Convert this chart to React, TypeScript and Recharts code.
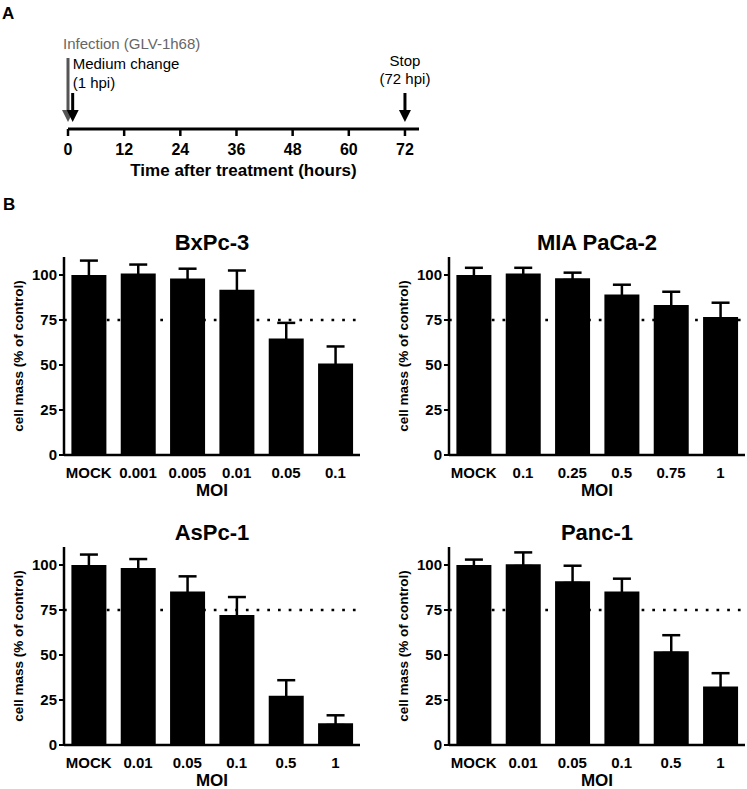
import React from 'react';
import { BarChart, Bar, XAxis, YAxis, ErrorBar, ReferenceLine, ComposedChart, Scatter } from 'recharts';

const FONT = '"Liberation Sans", Arial, Helvetica, sans-serif';

// Panel A: timeline
const timeTicks = [0, 12, 24, 36, 48, 60, 72];
const arrowTimes = [0, 1, 72];
const arrowTops = [71, 36, 36];
const arrowColors = ['#555', '#000', '#000'];
const timeNotes = [
  { t: 0, v: 80, text: 'Infection (GLV-1h68)', fill: '#666', anchor: 'start' },
  { t: 1, v: 60, text: 'Medium change', fill: '#000', anchor: 'start' },
  { t: 1, v: 41, text: '(1 hpi)', fill: '#000', anchor: 'start' },
  { t: 72, v: 63, text: 'Stop', fill: '#000', anchor: 'middle' },
  { t: 72, v: 45, text: '(72 hpi)', fill: '#000', anchor: 'middle' },
];

// Panel B: cell mass (% of control), mean and upper error
const bxpcDoses = ['MOCK', '0.001', '0.005', '0.01', '0.05', '0.1'];
const bxpcMean = [100, 100.8, 98, 91.8, 64.7, 50.8];
const bxpcErr = [8, 5, 5.5, 10.7, 8.7, 9.5];

const miaDoses = ['MOCK', '0.1', '0.25', '0.5', '0.75', '1'];
const miaMean = [100, 100.8, 98.2, 89.1, 83.3, 76.6];
const miaErr = [4, 3.2, 3.1, 5.5, 7.4, 8];

const aspcDoses = ['MOCK', '0.01', '0.05', '0.1', '0.5', '1'];
const aspcMean = [100, 98.3, 85.3, 72.2, 27.3, 12.1];
const aspcErr = [5.8, 5, 8.4, 10, 8.7, 4.4];

const pancDoses = ['MOCK', '0.01', '0.05', '0.1', '0.5', '1'];
const pancMean = [100, 100.4, 91, 85.3, 52.1, 32.5];
const pancErr = [3, 6.6, 8.6, 7.1, 8.9, 7.4];

const yTicks = [0, 25, 50, 75, 100];
const threshold = 75;

const ArrowHead = (props: any) => {
  const { cx, cy, payload } = props;
  return <polygon points={`${cx - 6},${cy - 12} ${cx + 6},${cy - 12} ${cx},${cy}`} fill={payload.color} />;
};

const Note = (props: any) => {
  const { cx, cy, payload } = props;
  const dx = payload.t === 0 ? -5 : 0;
  return (
    <text x={cx + dx} y={cy} textAnchor={payload.anchor} fill={payload.fill} fontSize={15}>
      {payload.text}
    </text>
  );
};

const renderYLabel = (props: any) => {
  const vb = props.viewBox;
  const cx = vb.x + 18;
  const cy = vb.y + vb.height / 2;
  return (
    <text x={cx} y={cy} transform={`rotate(-90 ${cx} ${cy})`} textAnchor="middle"
      dominantBaseline="central" fontSize={13.5} fontWeight="bold" fill="#000">
      cell mass (% of control)
    </text>
  );
};

const Timeline = () => {
  const heads = arrowTimes.map((t, i) => ({ t, v: 7, color: arrowColors[i] }));
  return (
    <ComposedChart width={440} height={180} margin={{ top: 29, right: 21, bottom: 2, left: 68 }}>
      <XAxis type="number" dataKey="t" domain={[0, 75]} ticks={timeTicks} tickSize={7} tickMargin={8}
        axisLine={{ stroke: '#000', strokeWidth: 3 }} tickLine={{ stroke: '#000', strokeWidth: 2.5 }}
        tick={{ fontSize: 16, fontWeight: 'bold', fill: '#000' }} height={49}
        label={{ value: 'Time after treatment (hours)', position: 'insideBottom', offset: 2,
          style: { fontSize: 17, fontWeight: 'bold', fill: '#000' } }} />
      <YAxis type="number" dataKey="v" hide domain={[0, 100]} />
      {arrowTimes.map((t, i) => (
        <ReferenceLine key={i} segment={[{ x: t, y: arrowTops[i] }, { x: t, y: 17 }]}
          stroke={arrowColors[i]} strokeWidth={3} />
      ))}
      <Scatter data={heads} dataKey="v" shape={ArrowHead} isAnimationActive={false} />
      <Scatter data={timeNotes} dataKey="v" shape={Note} isAnimationActive={false} />
    </ComposedChart>
  );
};

const Panel = ({ title, doses, mean, err, left, top }: any) => {
  // lower whisker kept tiny so it stays hidden inside the black bar
  const data = doses.map((d: string, i: number) => ({ dose: d, value: mean[i], err: [1, err[i]] }));
  return (
    <>
      <div style={{ position: 'absolute', left: left + 64, top: top - 18, width: 296, textAlign: 'center',
        fontSize: 22, fontWeight: 'bold', lineHeight: 1 }}>{title}</div>
      <div style={{ position: 'absolute', left, top }}>
        <BarChart width={362} height={250} data={data} barCategoryGap="15%"
          margin={{ top: 7, right: 2, bottom: 3, left: 0 }}>
          <ReferenceLine y={threshold} stroke="#000" strokeWidth={2.7} strokeDasharray="2.7 8" />
          <XAxis dataKey="dose" interval={0} tickLine={false} tickSize={0} tickMargin={12}
            axisLine={{ stroke: '#000', strokeWidth: 2.5 }} height={42}
            tick={{ fontSize: 15, fontWeight: 'bold', fill: '#000' }}
            label={{ value: 'MOI', position: 'insideBottom', offset: 1,
              style: { fontSize: 17, fontWeight: 'bold', fill: '#000' } }} />
          <YAxis domain={[0, 110]} ticks={yTicks} width={64} tickSize={5} tickMargin={2}
            axisLine={{ stroke: '#000', strokeWidth: 2.5 }} tickLine={{ stroke: '#000', strokeWidth: 2 }}
            tick={{ fontSize: 15, fontWeight: 'bold', fill: '#000' }} label={renderYLabel} />
          <Bar dataKey="value" fill="#000" isAnimationActive={false}>
            <ErrorBar dataKey="err" direction="y" width={9} stroke="#000" strokeWidth={2.5} />
          </Bar>
        </BarChart>
      </div>
    </>
  );
};

export default function App() {
  return (
    <div style={{ position: 'absolute', left: 0, top: 0, width: 747, height: 789, background: '#fff',
      fontFamily: FONT, color: '#000' }}>
      <div style={{ position: 'absolute', left: 2, top: 5, fontSize: 17, fontWeight: 'bold', lineHeight: 1 }}>A</div>
      <div style={{ position: 'absolute', left: 0, top: 0 }}>
        <Timeline />
      </div>
      <div style={{ position: 'absolute', left: 3, top: 196, fontSize: 17, fontWeight: 'bold', lineHeight: 1 }}>B</div>
      <Panel title="BxPc-3" doses={bxpcDoses} mean={bxpcMean} err={bxpcErr} left={0} top={250} />
      <Panel title="MIA PaCa-2" doses={miaDoses} mean={miaMean} err={miaErr} left={385} top={250} />
      <Panel title="AsPc-1" doses={aspcDoses} mean={aspcMean} err={aspcErr} left={0} top={540} />
      <Panel title="Panc-1" doses={pancDoses} mean={pancMean} err={pancErr} left={385} top={540} />
    </div>
  );
}
